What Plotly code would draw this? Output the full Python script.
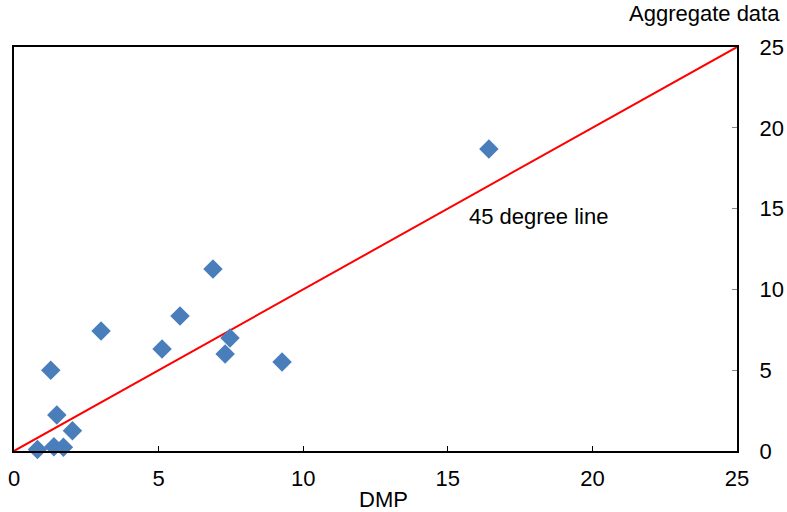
import plotly.graph_objects as go

dmp = [16.42, 6.88, 3.01, 5.74, 5.12, 7.47, 7.30, 9.27, 1.27, 1.48, 2.02, 0.81, 1.38, 1.71]
aggregate = [18.69, 11.26, 7.43, 8.35, 6.31, 6.99, 6.00, 5.51, 5.00, 2.23, 1.26, 0.10, 0.27, 0.23]
line_x = [0, 25]
line_y = [0, 25]
ticks = [0, 5, 10, 15, 20, 25]

font = dict(family="Liberation Sans, Arial, sans-serif", size=22, color="#000000")

fig = go.Figure()
fig.add_trace(go.Scatter(x=line_x, y=line_y, mode="lines",
                         line=dict(color="#FF0000", width=2), showlegend=False, cliponaxis=False))
fig.add_trace(go.Scatter(x=dmp, y=aggregate, mode="markers",
                         marker=dict(symbol="diamond", size=15, color="#4A7EBB",
                                     line=dict(width=0)),
                         showlegend=False, cliponaxis=False))

fig.update_layout(
    width=787, height=512,
    margin=dict(l=14, r=50, t=47, b=61),
    paper_bgcolor="white", plot_bgcolor="white",
    font=font,
    xaxis=dict(range=[0, 25], tickvals=ticks, ticks="inside", ticklen=5, tickcolor="#000000",
               showgrid=False, zeroline=False, showline=True, linecolor="#000000", linewidth=2,
               mirror=True, tickfont=font, ticklabelstandoff=7, automargin=False),
    yaxis=dict(range=[0, 25], tickvals=ticks, ticks="inside", ticklen=5, tickcolor="#888888",
               side="right", showgrid=False, zeroline=False, showline=True, linecolor="#000000",
               linewidth=2, mirror=True, tickfont=font, ticklabelstandoff=16, automargin=False),
    annotations=[
        dict(text="45 degree line", x=18.15, y=14.54, xref="x", yref="y", showarrow=False,
             font=font),
        dict(text="Aggregate data", x=(782 - 14) / 723, y=(451 - 14) / 404, xref="paper",
             yref="paper", showarrow=False, font=font, xanchor="right", yanchor="middle"),
        dict(text="DMP", x=(383 - 14) / 723, y=(451 - 500) / 404, xref="paper", yref="paper",
             showarrow=False, font=font, xanchor="center", yanchor="middle"),
    ],
)
fig.write_html("out.html")
